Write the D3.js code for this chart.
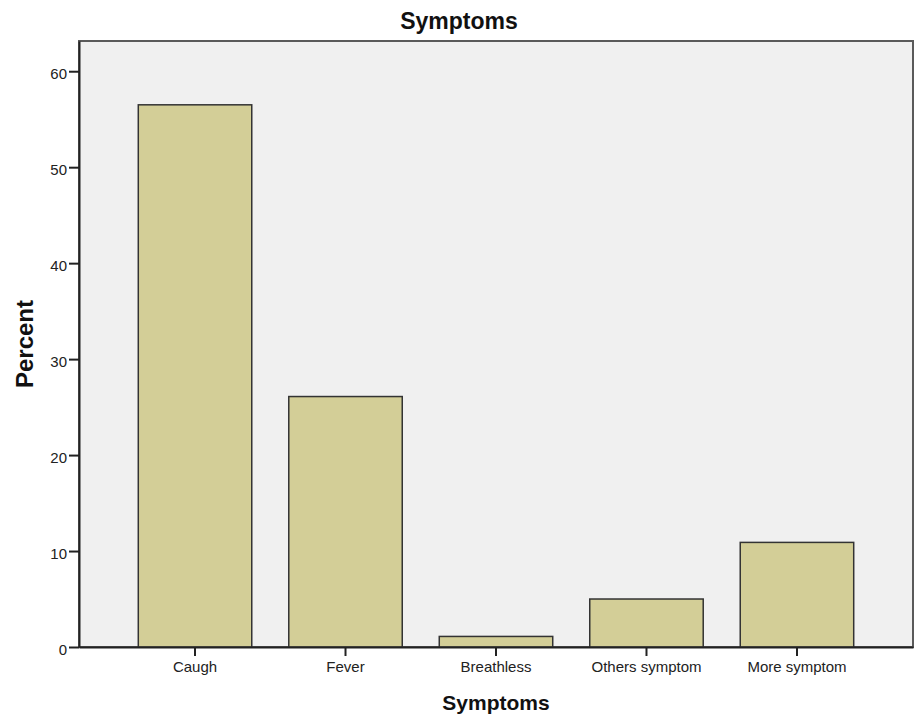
<!DOCTYPE html>
<html lang="en">
<head>
    <meta charset="UTF-8">
    <title>Symptoms</title>
    <script src="https://cdn.jsdelivr.net/npm/d3@7/dist/d3.min.js"></script>
    <style>
        body{ margin:0; background:#fff; }
        .tick text{ font-family: 'Liberation Sans', Arial, sans-serif; font-size:15px; fill:#222; }
        .titulo{ font-family: 'Liberation Sans', Arial, sans-serif; font-weight:700; fill:#111; }
    </style>
</head>
<body>
<div id="grafico"></div>
<script>
var categories = ["Caugh", "Fever", "Breathless", "Others symptom", "More symptom"];
var percents = [56.5, 26.1, 1.1, 5.0, 10.9];
var yTicks = [0, 10, 20, 30, 40, 50, 60];

var w = 918, h = 715;
var pLeft = 79, pRight = 913, pTop = 41, pBottom = 647;

var svg = d3.select("#grafico").append("svg")
    .attr("width", w)
    .attr("height", h);

var xScale = d3.scaleBand()
    .domain(categories)
    .range([pLeft, pRight])
    .paddingInner(0.246)
    .paddingOuter(0.394);

var yScale = d3.scaleLinear()
    .domain([0, 63.15])
    .range([pBottom, pTop]);

// fondo del área del gráfico
svg.append("rect")
    .attr("x", pLeft).attr("y", pTop)
    .attr("width", pRight - pLeft).attr("height", pBottom - pTop)
    .attr("fill", "#f0f0f0")
    .attr("stroke", "#5a5a5a")
    .attr("stroke-width", 2);

svg.selectAll("rect.barra")
    .data(percents)
    .enter()
    .append("rect")
    .attr("class", "barra")
    .attr("x", function(d, i){ return xScale(categories[i]); })
    .attr("y", function(d){ return yScale(d); })
    .attr("width", xScale.bandwidth())
    .attr("height", function(d){ return pBottom - yScale(d); })
    .attr("fill", "#d3ce97")
    .attr("stroke", "#333")
    .attr("stroke-width", 1.5);

var yAxis = d3.axisLeft(yScale).tickValues(yTicks).tickSizeInner(10).tickSizeOuter(0).tickPadding(2);
svg.append("g")
    .attr("transform", "translate(" + pLeft + ",0)")
    .call(yAxis)
    .call(function(g){ g.select(".domain").attr("stroke", "#222").attr("stroke-width", 2); })
    .call(function(g){ g.selectAll(".tick line").attr("stroke", "#222").attr("stroke-width", 2); })
    .call(function(g){ g.selectAll(".tick text").attr("dy", "0.5em"); });

var xAxis = d3.axisBottom(xScale).tickSizeInner(9).tickSizeOuter(0).tickPadding(5);
svg.append("g")
    .attr("transform", "translate(0," + pBottom + ")")
    .call(xAxis)
    .call(function(g){ g.select(".domain").attr("stroke", "#222").attr("stroke-width", 2); })
    .call(function(g){ g.selectAll(".tick line").attr("stroke", "#222").attr("stroke-width", 2); });

svg.append("text")
    .attr("class", "titulo")
    .attr("x", w / 2).attr("y", 29)
    .attr("text-anchor", "middle")
    .style("font-size", "23px")
    .text("Symptoms");

svg.append("text")
    .attr("class", "titulo")
    .attr("x", (pLeft + pRight) / 2).attr("y", 710)
    .attr("text-anchor", "middle")
    .style("font-size", "21px")
    .text("Symptoms");

svg.append("text")
    .attr("class", "titulo")
    .attr("transform", "translate(33," + (pTop + pBottom) / 2 + ") rotate(-90)")
    .attr("text-anchor", "middle")
    .style("font-size", "24px")
    .text("Percent");
</script>
</body>
</html>
